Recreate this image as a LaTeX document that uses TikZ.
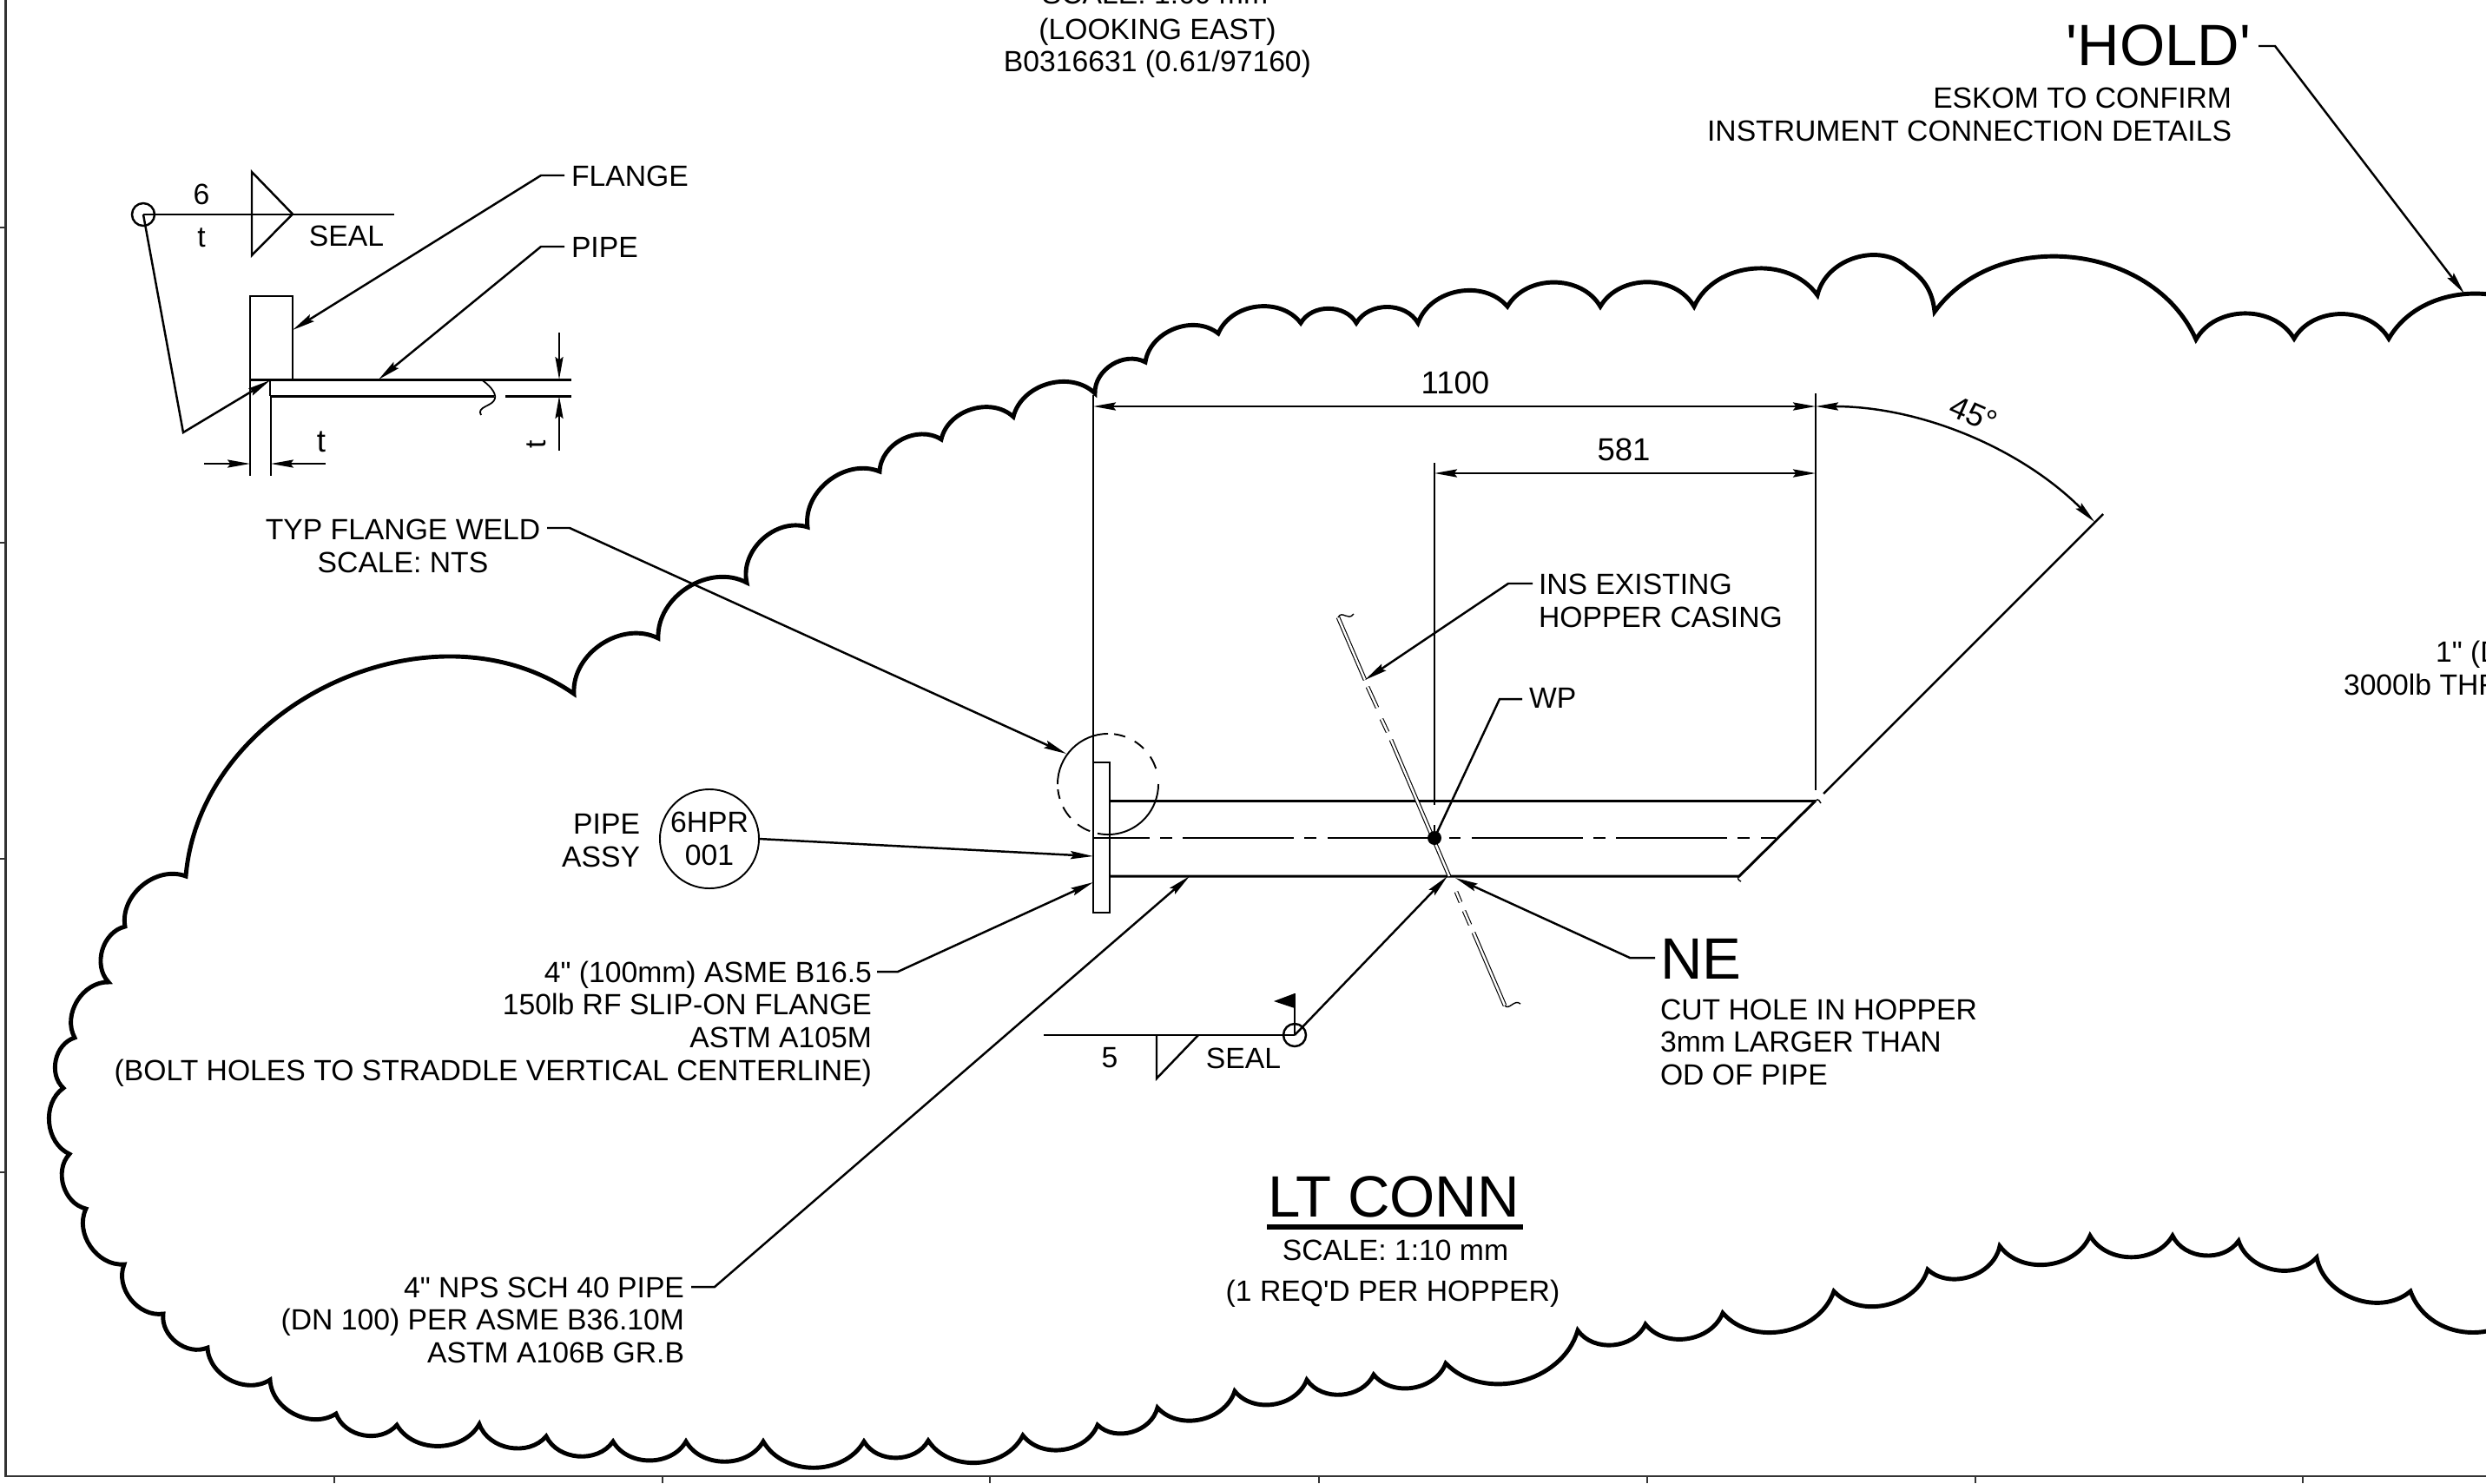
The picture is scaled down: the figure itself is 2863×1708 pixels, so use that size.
\documentclass[tikz,border=0pt]{standalone}
\usepackage{fontspec}
\newfontfamily\lib{Liberation Sans}
\usetikzlibrary{arrows.meta}
\tikzset{
  x=0.01cm,y=-0.01cm,
  txt/.style={font={\lib\fontsize{9.58pt}{10.68pt}\selectfont},inner sep=0pt,outer sep=0pt,text=black},
  dimtxt/.style={font={\lib\fontsize{10.4pt}{11pt}\selectfont},inner sep=0pt,outer sep=0pt,text=black},
  big/.style={font={\lib\fontsize{19.1pt}{21pt}\selectfont},inner sep=0pt,outer sep=0pt,text=black},
  tip/.style={-{Stealth[length=7.4pt,width=2.6pt,inset=1pt]}},
  tips/.style={{Stealth[length=7.4pt,width=2.6pt,inset=1pt]}-{Stealth[length=7.4pt,width=2.6pt,inset=1pt]}},
  leader/.style={line width=0.7pt,line join=miter},
  thin line/.style={line width=0.55pt},
  heavy/.style={line width=0.85pt},
  cloudline/.style={line width=1.4pt,line join=miter},
  cloudarc/.style={bend right=60,looseness=1.03},
  weldring/.style={circle,draw,line width=0.7pt,minimum size=0.26cm,inner sep=0pt,outer sep=0pt},
  casing/.style={double=white,double distance=0.7pt,line width=0.32pt},
}
\begin{document}
\begin{tikzpicture}
\useasboundingbox (0,0) rectangle (2863,1708);
\clip (0,0) rectangle (2863,1708);
\fill[white] (0,0) rectangle (2863,1708);

% sheet frame and zone ticks
\draw[line width=0.7pt,black!80] (6.5,0) -- (6.5,1700) -- (2863,1700);
\foreach \ty in {262,625,989,1350} \draw[line width=0.55pt,black!80] (0,\ty) -- (6.5,\ty);
\foreach \tx in {385,763,1140,1519,1897,2275,2652} \draw[line width=0.55pt,black!80] (\tx,1700) -- (\tx,1708);

% revision cloud
\draw[cloudline] (2950,390) to[cloudarc] (2751,390) to[cloudarc] (2642,390) to[cloudarc] (2529,391)
 to[cloudarc] (2228,359) to[bend right=25] (2197,308) to[cloudarc] (2093,340)
 to[cloudarc] (1951,353) to[cloudarc] (1843,353) to[cloudarc] (1736,353) to[cloudarc] (1633,372)
 to[cloudarc] (1562,372) to[cloudarc] (1498,372) to[cloudarc] (1403,384) to[cloudarc] (1319,417)
 to[cloudarc] (1261,453) to[cloudarc] (1167,480) to[cloudarc] (1084,506) to[cloudarc] (1013,543)
 to[cloudarc] (930,607) to[cloudarc] (860,671) to[cloudarc] (758,735) to[cloudarc] (661,799)
 to[cloudarc] (214,1009) to[cloudarc] (144,1067) to[cloudarc] (125,1131) to[cloudarc] (86,1195)
 to[cloudarc] (73,1253) to[cloudarc] (80,1329) to[cloudarc] (99,1392) to[cloudarc] (143,1456)
 to[cloudarc] (188,1513) to[cloudarc] (239,1552) to[cloudarc] (311,1589) to[cloudarc] (387,1628)
 to[cloudarc] (457,1641) to[cloudarc] (552,1640) to[cloudarc] (629,1654) to[cloudarc] (706,1660)
 to[cloudarc] (790,1660) to[cloudarc] (879,1660) to[cloudarc] (995,1660) to[cloudarc] (1069,1659)
 to[cloudarc] (1178,1653) to[cloudarc] (1264,1641) to[cloudarc] (1333,1621) to[cloudarc] (1422,1602)
 to[cloudarc] (1505,1589) to[cloudarc] (1582,1583) to[cloudarc] (1665,1570) to[cloudarc] (1817,1532)
 to[cloudarc] (1895,1525) to[cloudarc] (1984,1512) to[cloudarc] (2112,1487) to[cloudarc] (2220,1462)
 to[cloudarc] (2303,1435) to[cloudarc] (2407,1423) to[cloudarc] (2502,1423) to[cloudarc] (2578,1429)
 to[cloudarc] (2668,1448) to[cloudarc] (2776,1487) to[bend right=70,looseness=1.2] (2920,1487);

% ---- top texts
\node[txt,anchor=base] (scaleTop) at (1330,4) {SCALE: 1:60 mm};
\node[txt,anchor=base] (looking) at (1333,45) {(LOOKING EAST)};
\node[txt,anchor=base] (bref) at (1333,82) {B0316631 (0.61/97160)};
\node[big,anchor=base east] (hold) at (2592,75) {'HOLD'};
\node[txt,anchor=base east] (eskom) at (2570,124) {ESKOM TO CONFIRM};
\node[txt,anchor=base east] (instr) at (2570,162) {INSTRUMENT CONNECTION DETAILS};
\coordinate (holdA) at (2601,53);\coordinate (holdB) at (2620,53);\coordinate (holdT) at (2838,338);
\draw[leader,tip] (holdA) -- (holdB) -- (holdT);
\node[txt,anchor=base west] (oneIn) at (2805,762) {1" (D};
\node[txt,anchor=base west] (thrd) at (2699,800) {3000lb THR};

% ---- typical flange weld detail
\node[weldring] (wa) at (165,247) {};
\draw[leader] (wa.center) -- (454,247);
\draw[leader] (290,198) -- (337,246.5) -- (290,294) -- cycle;
\node[txt,anchor=base] (six) at (232,235) {6};
\node[txt,anchor=base] (tA) at (232,284) {t};
\node[txt,anchor=base] (sealA) at (399,283) {SEAL};
\coordinate (wk) at (211,498);\coordinate (wt) at (311,438);
\draw[leader,tip] (wa.center) -- (wk) -- (wt);
\draw[leader] (288,437) rectangle (337,341);
\draw[heavy] (288,437) -- (658,437);
\draw[heavy] (311,456) -- (569,456) (582,456) -- (658,456);
\draw[leader] (311,437) -- (311,456);
\draw[line width=0.5pt] (554,437) .. controls (562,442) and (572,452) .. (570,459) .. controls (568,468) and (548,468) .. (554,478);
\node[txt,anchor=base west] (flangeL) at (658,214) {FLANGE};
\node[txt,anchor=base west] (pipeL) at (658,296) {PIPE};
\coordinate (fl1) at (650,202);\coordinate (fl2) at (623,202);\coordinate (flT) at (337,380);
\coordinate (pl1) at (650,284);\coordinate (pl2) at (623,284);\coordinate (plT) at (436,437);
\draw[leader,tip] (fl1) -- (fl2) -- (flT);
\draw[leader,tip] (pl1) -- (pl2) -- (plT);
\draw[thin line,tip] (644,383) -- (644,437);
\draw[thin line,tip] (644,519) -- (644,456);
\node[txt,rotate=90,anchor=center] (tV) at (618,512) {t};
\draw[thin line] (288,438) -- (288,548);
\draw[thin line] (312,458) -- (312,548);
\draw[thin line,tip] (235,534) -- (288,534);
\draw[thin line,tip] (375,534) -- (312,534);
\node[dimtxt,anchor=base] (tH) at (370,520) {t};

\node[txt,align=center,anchor=center] (typ) at (464,629) {TYP FLANGE WELD\\SCALE: NTS};
\coordinate (ty1) at (630,608);\coordinate (ty2) at (656,608);\coordinate (tyT) at (1228,868);
\draw[leader,tip] (ty1) -- (ty2) -- (tyT);

% ---- main assembly
\draw[leader] (1259,1051) rectangle (1278,878);
\draw[heavy] (1278,922) -- (2091,922);
\draw[heavy] (1278,1009) -- (2003,1009) -- (2091,922);
\draw[line width=0.4pt] (2003,1009) .. controls (2000,1011) and (2002,1014) .. (2005,1015);
\draw[line width=0.4pt] (2091,922) .. controls (2094,919) and (2096,923) .. (2097,925);
\draw[thin line,dash pattern=on 36.4pt off 3.4pt on 3.9pt off 3.6pt,dash phase=17.6pt] (1258,965) -- (2045,965);
% detail ring
\coordinate (ring) at (1276,903);
\draw[thin line] (ring) ++(90:0.58cm) arc[start angle=90,end angle=180,radius=0.58cm];
\draw[thin line] (ring) ++(258:0.58cm) arc[start angle=258,end angle=360,radius=0.58cm];
\foreach \sa/\ea in {186/197,207/222,233/249,18/33,45/58,70/83}
  \draw[thin line] (ring) ++(\sa:0.58cm) arc[start angle=\sa,end angle=\ea,radius=0.58cm];
% extension and dimension lines
\draw[thin line] (1259,455) -- (1259,878);
\draw[thin line] (2091,453) -- (2091,910);
\draw[thin line] (1652,533) -- (1652,927) (1652,950) -- (1652,965);
\draw[leader] (2100,914) -- (2422,592);
\draw[leader,tips] (1259,468) -- (2091,468);
\draw[leader,tips] (1652,545) -- (2091,545);
\draw[leader,tips] (2091,468) arc[start angle=90,end angle=45,radius=4.54cm];
\node[dimtxt,anchor=base] (d1100) at (1676,453) {1100};
\node[dimtxt,anchor=base] (d581) at (1870,530) {581};
\node[dimtxt,rotate=-24,anchor=center] (ang) at (2273,477) {45°};
% hopper casing
\draw[casing] (1541,711) -- (1572,783);
\draw[casing] (1575,791) -- (1586,815);
\draw[casing] (1591,828) -- (1598,843);
\draw[casing] (1602,852) -- (1669,1009);
\draw[casing] (1677,1027) -- (1682,1039);
\draw[casing] (1686,1049) -- (1693,1065);
\draw[casing] (1697,1074) -- (1733,1158);
\draw[line width=0.4pt] (1541,711) .. controls (1546,702) and (1552,716) .. (1559,707);
\draw[line width=0.4pt] (1733,1158) .. controls (1738,1164) and (1744,1150) .. (1751,1156);
% work point
\node[circle,fill=black,minimum size=0.16cm,inner sep=0pt,outer sep=0pt] (wp) at (1652,965) {};
\node[txt,anchor=base west] (wpL) at (1761,815) {WP};
\coordinate (wp1) at (1753,805);\coordinate (wp2) at (1727,805);
\draw[leader] (wp1) -- (wp2) -- (wp.center);
% labels
\node[txt,align=left,anchor=west] (ins) at (1772,692) {INS EXISTING\\HOPPER CASING};
\coordinate (in1) at (1765,672);\coordinate (in2) at (1737,672);\coordinate (inT) at (1572,783);
\draw[leader,tip] (in1) -- (in2) -- (inT);

\node[txt,align=right,anchor=east] (assy) at (737,968) {PIPE\\ASSY};
\node[circle,draw,line width=0.55pt,minimum size=1.14cm,inner sep=0pt,outer sep=0pt,txt,align=center] (tag) at (817,966) {6HPR\\001};
\coordinate (tagT) at (1259,986);
\draw[leader,tip] (tag.east) -- (tagT);

\node[txt,align=right,anchor=east] (flg) at (1004,1179) {4" (100mm) ASME B16.5\\150lb RF SLIP-ON FLANGE\\ASTM A105M\\(BOLT HOLES TO STRADDLE VERTICAL CENTERLINE)};
\coordinate (fg1) at (1010,1119);\coordinate (fg2) at (1034,1119);\coordinate (fgT) at (1259,1016);
\draw[leader,tip] (fg1) -- (fg2) -- (fgT);

\node[txt,align=right,anchor=east] (npipe) at (788,1520) {4" NPS SCH 40 PIPE\\(DN 100) PER ASME B36.10M\\ASTM A106B GR.B};
\coordinate (np1) at (796,1482);\coordinate (np2) at (823,1482);\coordinate (npT) at (1370,1009);
\draw[leader,tip] (np1) -- (np2) -- (npT);

% field weld symbol
\node[weldring] (wb) at (1491,1192) {};
\draw[leader] (1202,1192) -- (wb.center);
\draw[leader] (1380,1192) -- (1332,1242) -- (1332,1192);
\draw[leader] (wb.center) -- (1491,1144);
\fill (1491,1144) -- (1467,1153) -- (1491,1161) -- cycle;
\coordinate (wbT) at (1667,1009);
\draw[leader,tip] (wb.center) -- (wbT);
\node[txt,anchor=base] (five) at (1278,1229) {5};
\node[txt,anchor=base] (sealB) at (1432,1230) {SEAL};

% NE note
\node[big,anchor=base west] (ne) at (1912,1127) {NE};
\coordinate (ne1) at (1906,1103);\coordinate (ne2) at (1877,1103);\coordinate (neT) at (1676,1011);
\draw[leader,tip] (ne1) -- (ne2) -- (neT);
\node[txt,align=left,anchor=west] (cut) at (1912,1200) {CUT HOLE IN HOPPER\\3mm LARGER THAN\\OD OF PIPE};

% title
\node[big,anchor=center] (title) at (1605,1378) {LT CONN};
\draw[line width=1.6pt] (1459,1413) -- (1754,1413);
\node[txt,anchor=center] (scaleB) at (1607,1440) {SCALE: 1:10 mm};
\node[txt,anchor=center] (req) at (1604,1490) {(1 REQ'D PER HOPPER)};
\end{tikzpicture}
\end{document}
